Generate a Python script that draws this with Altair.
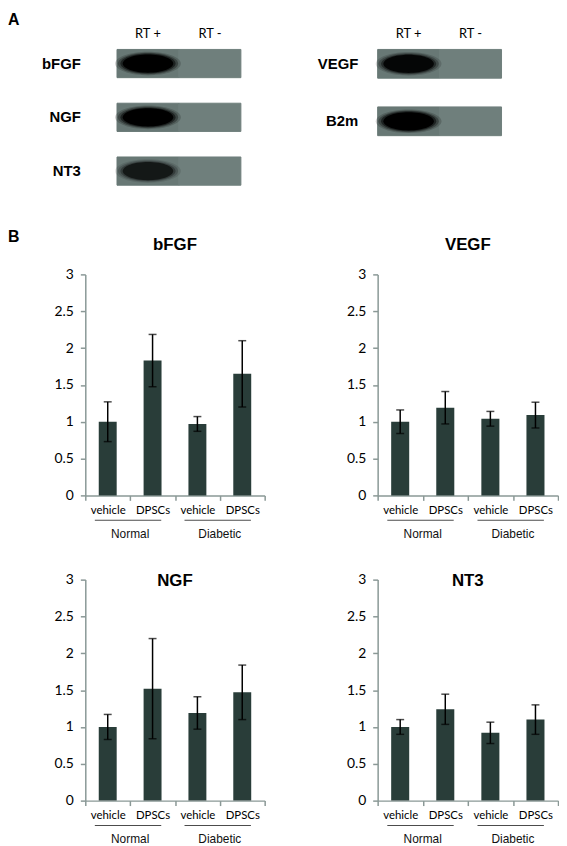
import altair as alt
import pandas as pd

# ---------------- data ----------------
# Panel A: RT-PCR bands (relative band darkness)
gel_genes_left = ["bFGF", "NGF", "NT3"]
gel_genes_right = ["VEGF", "B2m"]
lanes = ["RT +", "RT -"]
band_left_rt_plus = [1.0, 1.0, 0.6]
band_left_rt_minus = [0.0, 0.0, 0.0]
band_right_rt_plus = [0.85, 1.0]
band_right_rt_minus = [0.0, 0.0]

# Panel B: relative expression (mean and error)
groups = ["Normal", "Normal", "Diabetic", "Diabetic"]
treatments = ["vehicle", "DPSCs", "vehicle", "DPSCs"]
bfgf_mean = [1.00, 1.83, 0.97, 1.65]
bfgf_err = [0.27, 0.355, 0.10, 0.45]
vegf_mean = [1.00, 1.19, 1.04, 1.09]
vegf_err = [0.16, 0.22, 0.10, 0.175]
ngf_mean = [1.00, 1.52, 1.19, 1.47]
ngf_err = [0.17, 0.68, 0.22, 0.37]
nt3_mean = [1.00, 1.24, 0.92, 1.10]
nt3_err = [0.10, 0.205, 0.145, 0.20]
y_ticks = [0, 0.5, 1, 1.5, 2, 2.5, 3]

keys = [g + "|" + t for g, t in zip(groups, treatments)]

# ---------------- styles ----------------
BAR = "#293d39"
AXIS = "#8a9896"
GEL_PLUS = "#687875"
GEL_MINUS = "#6f7f7c"
ELLIPSE = "M -1 0 A 1 0.36 0 1 0 1 0 A 1 0.36 0 1 0 -1 0 Z"
PLOT_H = 223


def letter_layer(letter, x, y):
    return alt.Chart(pd.DataFrame({"t": [letter]})).mark_text(
        font="Liberation Sans", fontWeight="bold", fontSize=16, color="#000",
        align="left", baseline="top"
    ).encode(text="t:N", x=alt.value(x), y=alt.value(y))


def gel_panel(genes, plus, minus, width, height, xrange, yrange, pad_inner,
              label_pad, letter=None):
    df = pd.DataFrame({
        "gene": genes * 2,
        "lane": [lanes[0]] * len(genes) + [lanes[1]] * len(genes),
        "signal": plus + minus,
    })
    x = alt.X("lane:N", sort=lanes,
              scale=alt.Scale(range=xrange, paddingInner=0, paddingOuter=0),
              axis=alt.Axis(orient="top", title=None, domain=False, ticks=False,
                            labelAngle=0, labelFont="Lato", labelFontSize=13,
                            labelColor="#000", labelPadding=9))
    y = alt.Y("gene:N", sort=genes,
              scale=alt.Scale(range=yrange, paddingInner=pad_inner, paddingOuter=0),
              axis=alt.Axis(title=None, domain=False, ticks=False,
                            labelFont="Liberation Sans", labelFontWeight="bold",
                            labelFontSize=15, labelColor="#000",
                            labelPadding=label_pad))
    base = alt.Chart(df)
    gel_scale = alt.Scale(domain=lanes, range=[GEL_PLUS, GEL_MINUS])
    gel = base.mark_rect(strokeWidth=1).encode(
        x=x, y=y,
        fill=alt.Fill("lane:N", scale=gel_scale, legend=None),
        stroke=alt.Stroke("lane:N", scale=gel_scale, legend=None),
    )
    layers = [gel]
    # soft-edged band: stacked ellipses from wide/faint to narrow/solid
    for size, top in [(4400, 0.18), (3700, 0.3), (3100, 0.5), (2600, 1.0)]:
        layers.append(
            base.mark_point(shape=ELLIPSE, filled=True, size=size, color="#000",
                            strokeWidth=0).encode(
                x=x, y=y,
                opacity=alt.Opacity("signal:Q",
                                    scale=alt.Scale(domain=[0, 1], range=[0, top]),
                                    legend=None),
            )
        )
    if letter:
        layers.append(letter_layer(letter, -78, -38))
    return alt.layer(*layers).resolve_scale(opacity="independent").properties(
        width=width, height=height)


def bar_panel(name, means, errs, width, title_y, letter=None):
    df = pd.DataFrame({
        "key": keys,
        "mean": means,
        "lo": [m - e for m, e in zip(means, errs)],
        "hi": [m + e for m, e in zip(means, errs)],
    })
    xscale = alt.Scale(paddingInner=0, paddingOuter=0)
    xaxis = alt.Axis(title=None, labelAngle=0,
                     labelExpr="split(datum.label, '|')[1]",
                     tickBand="extent", domainColor=AXIS, tickColor=AXIS,
                     domainWidth=1.5, tickWidth=1.5, tickSize=5,
                     labelFont="Lato", labelFontSize=11.5, labelColor="#000",
                     labelPadding=4)
    x = alt.X("key:N", sort=keys, scale=xscale, axis=xaxis)
    xg = alt.X("key:N", sort=keys, scale=xscale, axis=xaxis, bandPosition=1)
    yscale = alt.Scale(domain=[0, 3], nice=False)
    yaxis = alt.Axis(title=None, values=y_ticks, labelExpr="'' + datum.value",
                     grid=False, domainColor=AXIS, tickColor=AXIS,
                     domainWidth=1.5, tickWidth=1.5, tickSize=5,
                     labelFont="Lato", labelFontSize=14, labelColor="#000",
                     labelPadding=7, labelFlush=False, labelOverlap=False)

    base = alt.Chart(df)
    bars = base.mark_bar(width=alt.RelativeBandSize(0.4), color=BAR).encode(
        x=x, y=alt.Y("mean:Q", scale=yscale, axis=yaxis))
    rule = base.mark_rule(color="#000", strokeWidth=1.5).encode(
        x=x, y=alt.Y("lo:Q", scale=yscale, axis=yaxis), y2="hi:Q")
    cap_hi = base.mark_tick(orient="horizontal", size=8, thickness=1.5,
                            color="#000").encode(
        x=x, y=alt.Y("hi:Q", scale=yscale, axis=yaxis))
    cap_lo = base.mark_tick(orient="horizontal", size=8, thickness=1.5,
                            color="#000").encode(
        x=x, y=alt.Y("lo:Q", scale=yscale, axis=yaxis))

    gdf = pd.DataFrame({"key": [keys[0], keys[2]], "group": [groups[0], groups[2]]})
    uline = alt.Chart(gdf).mark_tick(orient="horizontal", size=67, thickness=1,
                                     color="#000", xOffset=20.5).encode(
        x=x, y=alt.value(PLOT_H + 25))
    glabel = alt.Chart(gdf).mark_text(font="Liberation Sans", fontSize=12,
                                      color="#111", baseline="middle").encode(
        x=xg, y=alt.value(PLOT_H + 39), text="group:N")
    title = alt.Chart(pd.DataFrame({"t": [name]})).mark_text(
        font="Liberation Sans", fontWeight="bold", fontSize=17, color="#000",
        baseline="middle", align="center"
    ).encode(text="t:N", x=alt.value(width / 2), y=alt.value(title_y))

    layers = [bars, rule, cap_hi, cap_lo, uline, glabel, title]
    if letter:
        layers.append(letter_layer(letter, -78, -46))
    return alt.layer(*layers).properties(width=width, height=PLOT_H)


gel_left = gel_panel(gel_genes_left, band_left_rt_plus, band_left_rt_minus,
                     181, 137, [32, 157], [0, 137], 0.475, 5, letter="A")
gel_right = gel_panel(gel_genes_right, band_right_rt_plus, band_right_rt_minus,
                      182, 142, [0, 125], [0, 87], 0.5, 20)

p_bfgf = bar_panel("bFGF", bfgf_mean, bfgf_err, 181, -30, letter="B")
p_vegf = bar_panel("VEGF", vegf_mean, vegf_err, 182, -30)
p_ngf = bar_panel("NGF", ngf_mean, ngf_err, 181, 1)
p_nt3 = bar_panel("NT3", nt3_mean, nt3_err, 182, 1)

chart = alt.concat(
    gel_left, gel_right, p_bfgf, p_vegf, p_ngf, p_nt3,
    columns=2,
    spacing={"row": 85, "column": 114},
    bounds="flush",
).properties(padding=0).configure_view(stroke=None)

chart.save("out.html", embed_options={"renderer": "svg", "actions": False})
